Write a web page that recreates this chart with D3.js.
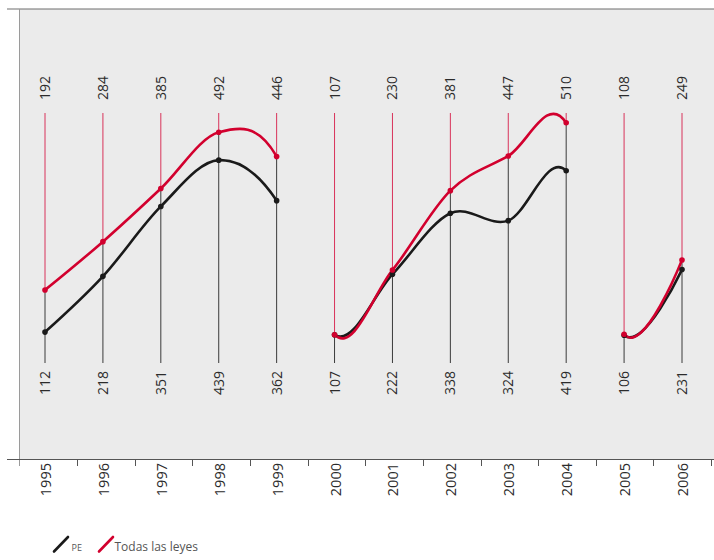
<!DOCTYPE html>
<html>
<head>
<meta charset="utf-8">
<script src="https://cdn.jsdelivr.net/npm/d3@7"></script>
<style>
  html, body { margin: 0; padding: 0; background: #fff; }
  svg { display: block; font-family: "Open Sans", "Noto Sans", sans-serif; }
</style>
</head>
<body>
<svg id="chart" width="714" height="560"></svg>
<script>
// Años y valores de cada serie
const years = ["1995","1996","1997","1998","1999","2000","2001","2002","2003","2004","2005","2006"];
const pe    = [112, 218, 351, 439, 362, 107, 222, 338, 324, 419, 106, 231];
const todas = [192, 284, 385, 492, 446, 107, 230, 381, 447, 510, 108, 249];
// Tramos que se dibujan como curvas separadas
const tramos = [["1995","1999"], ["2000","2004"], ["2005","2006"]];
const seriesNames = ["PE", "Todas las leyes"];

const RED = "#d2002e", BLACK = "#1a1a1a";
const svg = d3.select("#chart");

const plot = { left: 19.5, right: 714, top: 9, bottom: 459.5 };

const xBand = d3.scaleBand().domain(years).range([19.5, 711]);
const x = d3.scalePoint().domain(years).range([45, 682]);
const y = d3.scaleLinear().domain([0, 600]).range([391, 75.5]);

// fondo del área de trazado
svg.append("rect")
  .attr("x", plot.left).attr("y", plot.top)
  .attr("width", plot.right - plot.left).attr("height", plot.bottom - plot.top)
  .attr("fill", "#ebebeb");

// línea superior y eje izquierdo
svg.append("line").attr("x1", 7).attr("x2", 714).attr("y1", plot.top).attr("y2", plot.top)
  .attr("stroke", "#6e6e6e").attr("stroke-width", 1.2);
svg.append("line").attr("x1", plot.left).attr("x2", plot.left).attr("y1", plot.top).attr("y2", 466)
  .attr("stroke", "#9a9a9a").attr("stroke-width", 1);

// eje inferior con marcas entre categorías
svg.append("line").attr("x1", 7).attr("x2", 714).attr("y1", plot.bottom).attr("y2", plot.bottom)
  .attr("stroke", "#555").attr("stroke-width", 1);
svg.append("g").selectAll("line")
  .data(years)
  .join("line")
  .attr("x1", d => Math.round(xBand(d) + xBand.bandwidth()) + 0.5)
  .attr("x2", d => Math.round(xBand(d) + xBand.bandwidth()) + 0.5)
  .attr("y1", plot.bottom).attr("y2", 466)
  .attr("stroke", "#555").attr("stroke-width", 1);

// etiquetas de años
svg.append("g").selectAll("text")
  .data(years)
  .join("text")
  .attr("transform", d => `translate(${x(d) + 6},463) rotate(-90)`)
  .attr("text-anchor", "end")
  .attr("font-size", 14.5)
  .attr("fill", "#2b2b2b")
  .text(d => d);

// líneas verticales: roja arriba del punto, negra debajo
const vert = svg.append("g");
vert.selectAll("line.r")
  .data(years)
  .join("line").attr("class", "r")
  .attr("x1", d => x(d)).attr("x2", d => x(d))
  .attr("y1", 113).attr("y2", (d, i) => y(todas[i]))
  .attr("stroke", "#d8335a").attr("stroke-width", 1);
vert.selectAll("line.k")
  .data(years)
  .join("line").attr("class", "k")
  .attr("x1", d => x(d)).attr("x2", d => x(d))
  .attr("y1", (d, i) => y(todas[i])).attr("y2", 363)
  .attr("stroke", "#3a3a3a").attr("stroke-width", 1);

// valores rotulados
svg.append("g").selectAll("text")
  .data(years)
  .join("text")
  .attr("transform", d => `translate(${x(d) + 5},100) rotate(-90)`)
  .attr("font-size", 14)
  .attr("fill", "#2b2b2b")
  .text((d, i) => todas[i]);
svg.append("g").selectAll("text")
  .data(years)
  .join("text")
  .attr("transform", d => `translate(${x(d) + 5},395) rotate(-90)`)
  .attr("font-size", 14)
  .attr("fill", "#2b2b2b")
  .text((d, i) => pe[i]);

// curvas suavizadas: cada tramo usa los vecinos para las tangentes y se recorta a su extensión
const defs = svg.append("defs");
const line = d3.line().x(d => x(d.year)).y(d => y(d.v)).curve(d3.curveCardinal.tension(0));

tramos.forEach((t, k) => {
  const i0 = years.indexOf(t[0]), i1 = years.indexOf(t[1]);
  defs.append("clipPath").attr("id", "tramo" + k)
    .append("rect")
    .attr("x", x(t[0])).attr("width", x(t[1]) - x(t[0]))
    .attr("y", 0).attr("height", 560);
  const a = Math.max(0, i0 - 1), b = Math.min(years.length - 1, i1 + 1);
  [[pe, BLACK], [todas, RED]].forEach(([vals, col]) => {
    const pts = d3.range(a, b + 1).map(i => ({ year: years[i], v: vals[i] }));
    svg.append("path")
      .attr("clip-path", `url(#tramo${k})`)
      .attr("d", line(pts))
      .attr("fill", "none")
      .attr("stroke", col)
      .attr("stroke-width", 2.6);
  });
});

// puntos
[[pe, BLACK], [todas, RED]].forEach(([vals, col]) => {
  svg.append("g").selectAll("circle")
    .data(years)
    .join("circle")
    .attr("cx", d => x(d)).attr("cy", (d, i) => y(vals[i]))
    .attr("r", 2.8).attr("fill", col);
});

// leyenda
const leg = svg.append("g");
leg.append("line").attr("x1", 54).attr("y1", 551.5).attr("x2", 68).attr("y2", 537)
  .attr("stroke", BLACK).attr("stroke-width", 2.6).attr("stroke-linecap", "round");
leg.append("text").attr("x", 71.5).attr("y", 550.5).attr("font-size", 9).attr("fill", "#555")
  .text(seriesNames[0]);
leg.append("line").attr("x1", 99).attr("y1", 551.5).attr("x2", 113).attr("y2", 537)
  .attr("stroke", RED).attr("stroke-width", 2.6).attr("stroke-linecap", "round");
leg.append("text").attr("x", 114.5).attr("y", 550.5).attr("font-size", 12).attr("fill", "#555")
  .text(seriesNames[1]);
</script>
</body>
</html>
